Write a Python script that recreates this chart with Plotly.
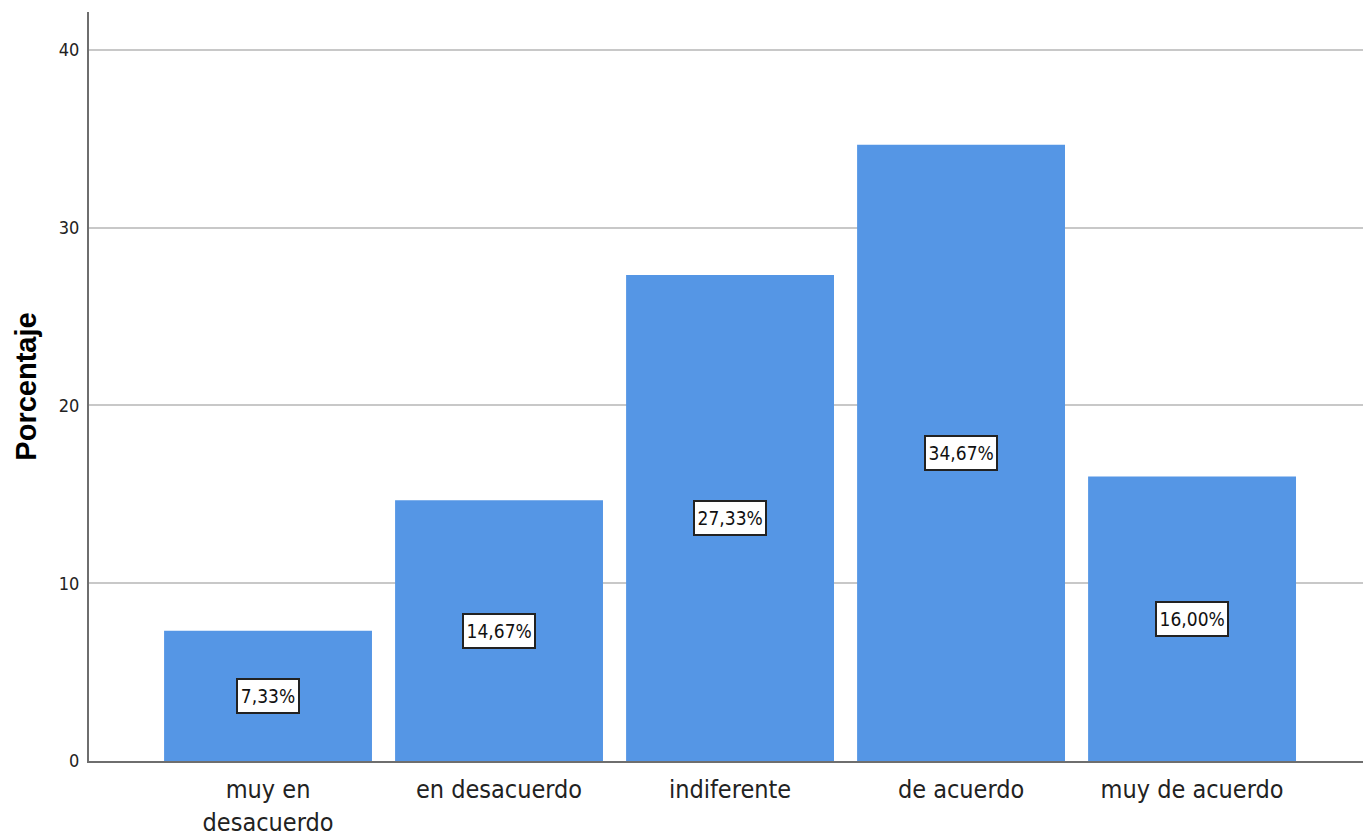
import plotly.graph_objects as go

categories = ["muy en<br>desacuerdo", "en desacuerdo", "indiferente", "de acuerdo", "muy de acuerdo"]
values = [7.33, 14.67, 27.33, 34.67, 16.00]
labels = ["7,33%", "14,67%", "27,33%", "34,67%", "16,00%"]
y_ticks = [0, 10, 20, 30, 40]

FONT = "DejaVu Sans Condensed, Liberation Sans Narrow, Arial Narrow, Liberation Sans, Arial, sans-serif"

fig = go.Figure()
fig.add_trace(go.Bar(
    x=list(range(len(categories))),
    y=values,
    width=0.9,
    marker=dict(color="#5596e5", line=dict(width=0)),
    hoverinfo="skip",
))

for i, (v, t) in enumerate(zip(values, labels)):
    fig.add_annotation(
        x=i, y=v / 2, text=t, showarrow=False,
        font=dict(family=FONT, size=19, color="#111"),
        bgcolor="white", bordercolor="#222", borderwidth=2, borderpad=1,
        height=30, width=len(t) * 10.4 + 6,
    )

fig.update_layout(
    width=1363, height=838,
    margin=dict(l=89, r=0, t=12, b=77),
    paper_bgcolor="white", plot_bgcolor="white",
    showlegend=False,
    font=dict(family=FONT, color="black"),
)
fig.update_xaxes(
    range=[-0.775, 4.74],
    tickmode="array", tickvals=list(range(len(categories))), ticktext=categories,
    tickfont=dict(family=FONT, size=25, color="#222"),
    showline=True, linecolor="#6e6e6e", linewidth=2,
    ticks="", showgrid=False, zeroline=False,
    ticklabelstandoff=5, automargin=False,
)
fig.update_yaxes(
    range=[0, 42.13],
    tickmode="array", tickvals=y_ticks, ticktext=[str(t) for t in y_ticks],
    tickfont=dict(family=FONT, size=18, color="#222"),
    ticklabelstandoff=4, automargin=False,
    showline=True, linecolor="#6e6e6e", linewidth=2,
    showgrid=True, gridcolor="#c8c8c8", gridwidth=2,
    ticks="", zeroline=False,
    title=dict(text="<b>Porcentaje</b>", font=dict(family="Liberation Sans, Arial, sans-serif", size=29, color="black"), standoff=14),
)

fig.write_html("out.html")
